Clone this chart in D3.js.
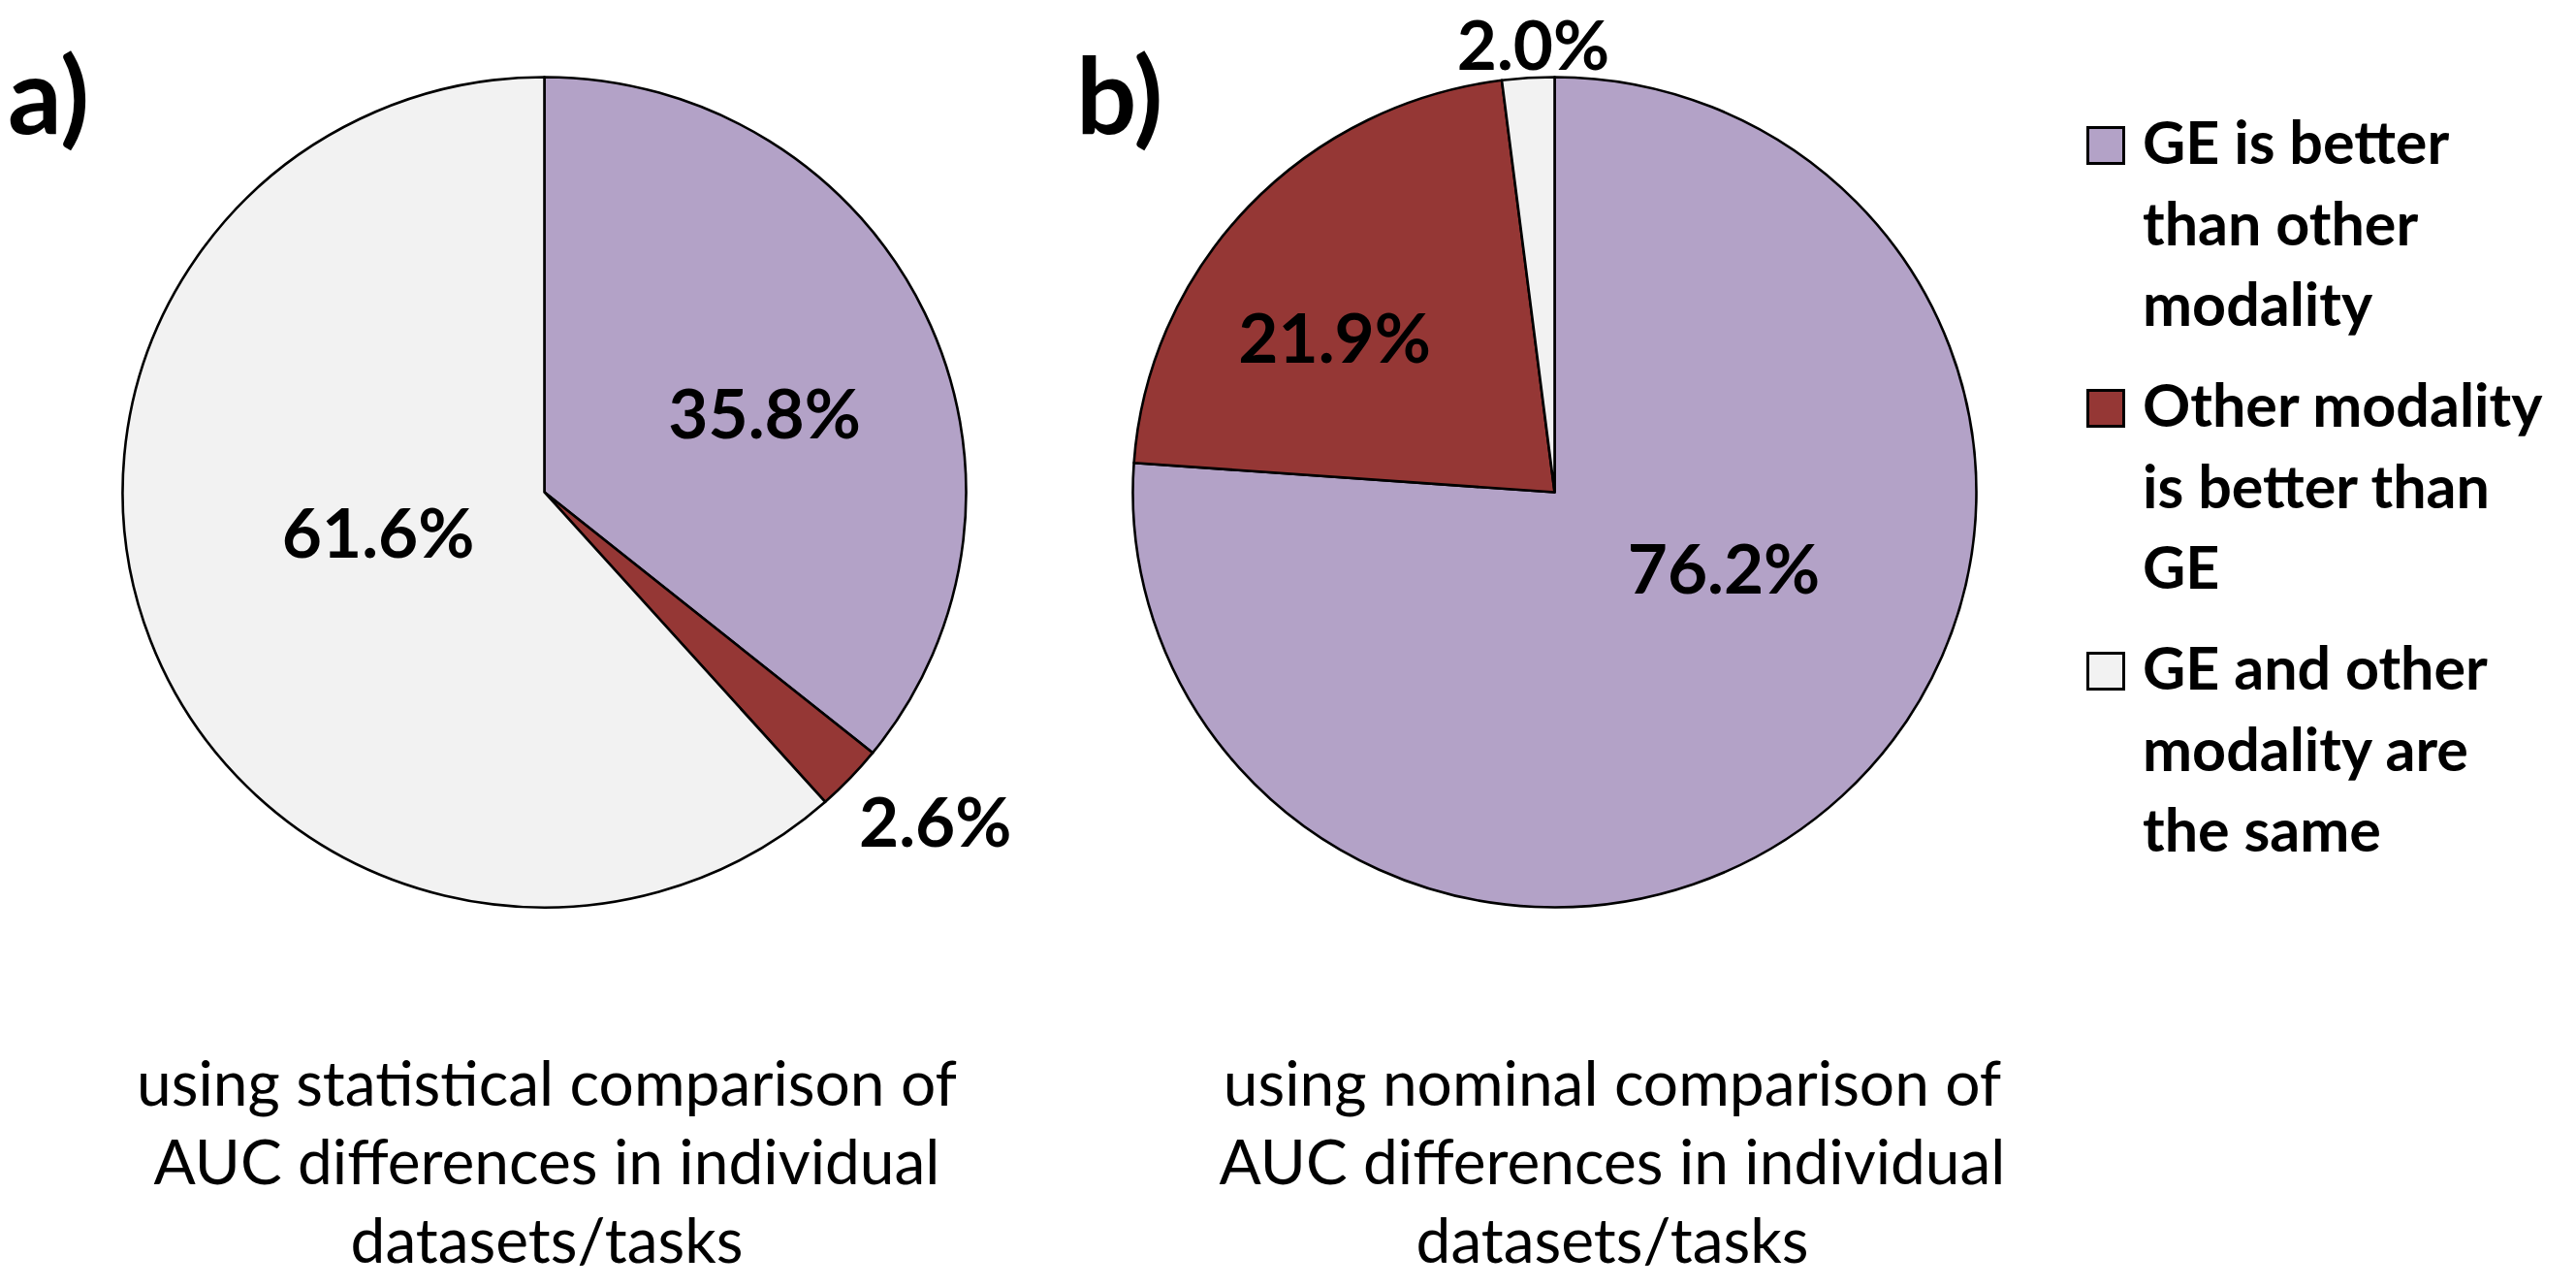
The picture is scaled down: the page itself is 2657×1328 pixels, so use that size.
<!DOCTYPE html>
<html>
<head>
<meta charset="utf-8">
<script src="https://cdn.jsdelivr.net/npm/d3@7"></script>
<style>
  html, body { margin: 0; padding: 0; background: #fff; }
  svg { display: block; }
  text { font-family: Lato, "Open Sans", sans-serif; fill: #000; }
</style>
</head>
<body>
<svg id="chart" width="2657" height="1328"></svg>
<script>
// ---------------- data ----------------
const categories = [
  "GE is better than other modality",
  "Other modality is better than GE",
  "GE and other modality are the same"
];
const legendLines = [
  ["GE is better", "than other", "modality"],
  ["Other modality", "is better than", "GE"],
  ["GE and other", "modality are", "the same"]
];
const statisticalValues = [35.8, 2.6, 61.6];   // panel a
const nominalValues     = [76.2, 21.9, 2.0];   // panel b
const panelLabels = ["a)", "b)"];
const captionA = ["using statistical comparison of", "AUC differences in individual", "datasets/tasks"];
const captionB = ["using nominal comparison of", "AUC differences in individual", "datasets/tasks"];

// ---------------- style / layout ----------------
const colors = ["#B3A2C7", "#953735", "#F2F2F2"];
const W = 2657, H = 1328;
const R = 435, yScale = 0.984;
const layout = [
  { values: statisticalValues, cx: 561.5, cy: 507.5, tag: panelLabels[0], tagX: 8, caption: captionA, capX: 564,
    labelShift: [5.7, -3.0, 6.9], labelRadius: [0.555, 1.22, 0.406] },
  { values: nominalValues, cx: 1603.5, cy: 507.5, tag: panelLabels[1], tagX: 1110, caption: captionB, capX: 1663,
    labelShift: [-22.2, -8.0, 0.9], labelRadius: [0.442, 0.64, 1.078] }
];

const svg = d3.select("#chart");
svg.append("rect").attr("width", W).attr("height", H).attr("fill", "#fff");

const pie = d3.pie().sort(null).value(d => d).startAngle(0).endAngle(2 * Math.PI);
const arc = d3.arc().innerRadius(0).outerRadius(R);
const color = d3.scaleOrdinal().domain(d3.range(categories.length)).range(colors);

layout.forEach(p => {
  const g = svg.append("g").attr("transform", `translate(${p.cx},${p.cy})`);
  const gp = g.append("g").attr("transform", `scale(1,${yScale})`);
  const arcs = pie(p.values);
  gp.selectAll("path").data(arcs).join("path")
    .attr("d", arc)
    .attr("fill", (d, i) => color(i))
    .attr("stroke", "#000")
    .attr("stroke-width", 2.6)
    .attr("stroke-linejoin", "round")
    .attr("vector-effect", "non-scaling-stroke");

  g.selectAll("text.pct").data(arcs).join("text")
    .attr("class", "pct")
    .attr("x", (d, i) => {
      const a = (d.startAngle + d.endAngle) / 2 + p.labelShift[i] * Math.PI / 180;
      return Math.sin(a) * R * p.labelRadius[i];
    })
    .attr("y", (d, i) => {
      const a = (d.startAngle + d.endAngle) / 2 + p.labelShift[i] * Math.PI / 180;
      return -Math.cos(a) * R * p.labelRadius[i] * yScale;
    })
    .attr("dy", "0.36em")
    .attr("text-anchor", "middle")
    .attr("font-weight", 700)
    .attr("font-size", 71)
    .text(d => d.data.toFixed(1) + "%");

  svg.append("text")
    .attr("x", p.tagX).attr("y", 138)
    .attr("font-weight", 700).attr("font-size", 110)
    .text(p.tag);

  svg.append("g").selectAll("text").data(p.caption).join("text")
    .attr("x", p.capX)
    .attr("y", (d, i) => 1140 + i * 81)
    .attr("text-anchor", "middle")
    .attr("font-size", 64)
    .text(d => d);
});

// ---------------- legend ----------------
const legend = svg.append("g");
const lineStep = 83.5, groupStep = 271, firstBase = 169;
legendLines.forEach((lines, gi) => {
  const base = firstBase + gi * groupStep;
  legend.append("rect")
    .attr("x", 2153.5).attr("y", base - 37.5)
    .attr("width", 37).attr("height", 37)
    .attr("fill", colors[gi]).attr("stroke", "#000").attr("stroke-width", 3);
  legend.selectAll(null).data(lines).join("text")
    .attr("x", 2210)
    .attr("y", (d, i) => base + i * lineStep)
    .attr("font-weight", 700)
    .attr("font-size", 61)
    .text(d => d);
});
</script>
</body>
</html>
